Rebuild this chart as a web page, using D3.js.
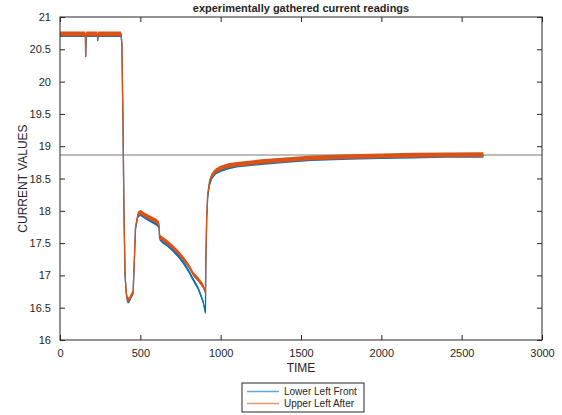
<!DOCTYPE html>
<html>
<head>
<meta charset="utf-8">
<script src="https://cdn.jsdelivr.net/npm/d3@7"></script>
<style>
  body { margin: 0; background: #fff; }
  svg text { font-family: "Liberation Sans", Arial, Helvetica, sans-serif; fill: #262626; }
</style>
</head>
<body>
<svg id="chart" width="562" height="415"></svg>
<script>
// time samples
var timeVals = [0, 158, 160, 163, 233, 235, 237, 380, 385, 392, 398, 405, 412, 420, 430, 445, 455, 462, 470, 485, 500,
  530, 600, 616, 620, 640, 664, 700, 740, 770, 800, 830, 860, 890, 905, 908, 913, 919, 930, 944, 970, 1000, 1046,
  1100, 1255, 1400, 1566, 1800, 2000, 2200, 2400, 2635];

// Upper Left After (orange)
var upperLeftAfter = [20.74, 20.74, 20.38, 20.74, 20.74, 20.65, 20.74, 20.74, 20.60, 19.40, 18.00, 17.00, 16.75, 16.63, 16.62, 16.70, 16.74, 17.20, 17.75, 17.95, 17.98,
  17.93, 17.84, 17.80, 17.60, 17.56, 17.52, 17.44, 17.34, 17.25, 17.15, 17.02, 16.94, 16.84, 16.74, 17.30, 17.90, 18.25, 18.45, 18.55, 18.62, 18.66, 18.70,
  18.72, 18.76, 18.79, 18.82, 18.84, 18.85, 18.86, 18.865, 18.87];

// Lower Left Front (blue)
var lowerLeftFront = [20.72, 20.72, 20.38, 20.72, 20.72, 20.63, 20.72, 20.72, 20.58, 19.40, 18.00, 17.00, 16.72, 16.60, 16.60, 16.68, 16.72, 17.18, 17.72, 17.92, 17.95,
  17.90, 17.80, 17.76, 17.57, 17.52, 17.48, 17.40, 17.29, 17.19, 17.07, 16.93, 16.80, 16.60, 16.42, 17.20, 17.85, 18.20, 18.40, 18.51, 18.59, 18.63, 18.67,
  18.70, 18.74, 18.77, 18.80, 18.82, 18.83, 18.84, 18.85, 18.85];

// half-height of the noise band on each trace
var noiseBand = [0.03, 0.037];

var refLevel = 18.865;
var xTicks = [0, 500, 1000, 1500, 2000, 2500, 3000];
var yTicks = [16, 16.5, 17, 17.5, 18, 18.5, 19, 19.5, 20, 20.5, 21];
var seriesNames = ["Lower Left Front", "Upper Left After"];
var seriesColors = ["#0072BD", "#D95319"];

var plotLeft = 60, plotRight = 542, plotTop = 17, plotBottom = 340;
var svg = d3.select("#chart");

var x = d3.scaleLinear().domain([0, 3000]).range([plotLeft, plotRight]);
var y = d3.scaleLinear().domain([16, 21]).range([plotBottom, plotTop]);

var line = d3.line()
  .x(function(d){ return x(d[0]); })
  .y(function(d){ return y(d[1]); });

// reference line
svg.append("line")
  .attr("x1", x(0)).attr("x2", x(3000))
  .attr("y1", y(refLevel)).attr("y2", y(refLevel))
  .style("stroke", "#a6a6a6").style("stroke-width", 1.5);

var allSeries = [lowerLeftFront, upperLeftAfter];
allSeries.forEach(function(vals, s){
  var data = timeVals.map(function(t, i){ return [t, vals[i]]; });
  var band = d3.area()
    .x(function(d){ return x(d[0]); })
    .y0(function(d){ return y(d[1] - noiseBand[s]); })
    .y1(function(d){ return y(d[1] + noiseBand[s]); });
  svg.append("path").datum(data)
    .attr("d", band)
    .style("fill", seriesColors[s]).style("stroke", "none");
  svg.append("path").datum(data)
    .attr("d", line)
    .style("fill", "none").style("stroke", seriesColors[s]).style("stroke-width", 1.3);
});

// axes box with inward ticks
var axisColor = "#262626";
svg.append("rect")
  .attr("x", plotLeft).attr("y", plotTop)
  .attr("width", plotRight - plotLeft).attr("height", plotBottom - plotTop)
  .style("fill", "none").style("stroke", axisColor).style("stroke-width", 1);

svg.append("g")
  .attr("transform", "translate(0," + plotBottom + ")")
  .call(d3.axisBottom(x).tickValues(xTicks).tickSizeInner(-5).tickSizeOuter(0).tickPadding(9).tickFormat(d3.format("d")))
  .call(function(g){ g.select(".domain").remove(); });

svg.append("g")
  .attr("transform", "translate(0," + plotTop + ")")
  .call(d3.axisTop(x).tickValues(xTicks).tickSizeInner(-5).tickSizeOuter(0).tickFormat(""))
  .call(function(g){ g.select(".domain").remove(); });

svg.append("g")
  .attr("transform", "translate(" + plotLeft + ",0)")
  .call(d3.axisLeft(y).tickValues(yTicks).tickSizeInner(-5).tickSizeOuter(0).tickPadding(9).tickFormat(d3.format("~g")))
  .call(function(g){ g.select(".domain").remove(); });

svg.append("g")
  .attr("transform", "translate(" + plotRight + ",0)")
  .call(d3.axisRight(y).tickValues(yTicks).tickSizeInner(-5).tickSizeOuter(0).tickFormat(""))
  .call(function(g){ g.select(".domain").remove(); });

svg.selectAll(".tick line").style("stroke", axisColor);
svg.selectAll(".tick text").style("font-size", "11px").style("fill", axisColor)
  .style("font-family", "'Liberation Sans', Arial, sans-serif");

// titles
svg.append("text")
  .attr("x", (plotLeft + plotRight) / 2).attr("y", 12)
  .style("text-anchor", "middle").style("font-size", "11px").style("font-weight", "bold")
  .text("experimentally gathered current readings");

svg.append("text")
  .attr("x", (plotLeft + plotRight) / 2).attr("y", 372)
  .style("text-anchor", "middle").style("font-size", "12px")
  .text("TIME");

svg.append("text")
  .attr("transform", "translate(27," + ((plotTop + plotBottom) / 2) + ") rotate(-90)")
  .style("text-anchor", "middle").style("font-size", "12px")
  .text("CURRENT VALUES");

// legend
var legend = svg.append("g").attr("transform", "translate(242,383)");
legend.append("rect")
  .attr("width", 122).attr("height", 29)
  .style("fill", "#fff").style("stroke", axisColor).style("stroke-width", 1);

seriesNames.forEach(function(name, i){
  var ly = 8.5 + i * 12;
  legend.append("line")
    .attr("x1", 5).attr("x2", 37).attr("y1", ly).attr("y2", ly)
    .style("stroke", seriesColors[i]).style("stroke-width", 1.5).style("opacity", 0.6);
  legend.append("text")
    .attr("x", 42).attr("y", ly + 3.5)
    .style("font-size", "10px")
    .text(name);
});
</script>
</body>
</html>
